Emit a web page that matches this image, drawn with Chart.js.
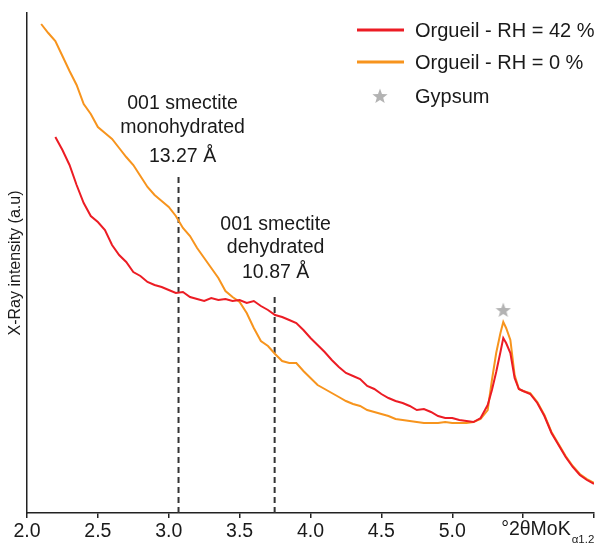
<!DOCTYPE html>
<html>
<head>
<meta charset="utf-8">
<script src="https://cdn.jsdelivr.net/npm/chart.js@4"></script>
<style>
html, body { margin: 0; padding: 0; background: #fff; }
</style>
</head>
<body>
<canvas id="chart1" width="598" height="546"></canvas>
<script>
// 2theta positions (deg, Mo K alpha)
const twoTheta = [2.10, 2.15, 2.20, 2.25, 2.30, 2.35, 2.40, 2.45, 2.50, 2.55,
    2.60, 2.65, 2.70, 2.75, 2.80, 2.85, 2.90, 2.95, 3.00, 3.05,
    3.10, 3.15, 3.20, 3.25, 3.30, 3.35, 3.40, 3.45, 3.50, 3.55,
    3.60, 3.65, 3.70, 3.75, 3.80, 3.85, 3.90, 3.95, 4.00, 4.05,
    4.10, 4.15, 4.20, 4.25, 4.30, 4.35, 4.40, 4.45, 4.50, 4.55,
    4.60, 4.65, 4.70, 4.75, 4.80, 4.85, 4.90, 4.95, 5.00, 5.05,
    5.10, 5.15, 5.20, 5.25,
    5.28, 5.31, 5.34, 5.36, 5.38, 5.41, 5.44, 5.47,
    5.50, 5.55, 5.60, 5.65, 5.70, 5.75, 5.80, 5.85, 5.90, 5.95, 6.00];

// Orgueil - RH = 42 %
const rh42 = [null, null, 380, 367, 352, 332, 314, 301, 295, 287,
    272, 262, 255, 245, 241, 235, 232, 230, 227, 224,
    225, 220, 218, 216, 219, 217, 218, 216, 217, 214,
    216, 211, 207, 202, 200, 197, 194, 187, 179, 172,
    165, 157, 150, 144, 141, 138, 131, 128, 123, 119,
    116, 114, 111, 107, 108, 105, 101, 99, 99, 97,
    96, 95, 99, 112,
    127, 145, 165, 179, 174, 164, 139, 128,
    126, 123, 114, 101, 84, 72, 60, 50, 42, 37, 33];

// Orgueil - RH = 0 %
const rh0 = [493, 484, 476, 461, 446, 432, 413, 403, 390, 384,
    378, 369, 360, 352, 341, 330, 322, 316, 310, 301,
    289, 281, 269, 259, 249, 239, 226, 220, 215, 204,
    189, 176, 171, 163, 156, 154, 154, 146, 139, 132,
    128, 124, 120, 116, 113, 111, 107, 105, 103, 101,
    98, 97, 96, 95, 94, 94, 94, 95, 94, 94,
    94, 95, 98, 107,
    137, 164, 184, 195, 189, 177, 142, 128,
    126, 124, 115, 102, 85, 73, 61, 51, 43, 38, 34];

// 001 smectite reflections
const smectitePos = [3.069, 3.747];
const smectiteTop = [342, 223];
const smectiteText = [['001 smectite', 'monohydrated', '13.27 Å'], ['001 smectite', 'dehydrated', '10.87 Å']];

// gypsum peak marker
const gypsumPos = [5.36];
const gypsumMark = [207];

const seriesLabels = ['Orgueil - RH = 42 %', 'Orgueil - RH = 0 %', 'Gypsum'];
const seriesColors = ['#ec1c24', '#f7941d', '#b3b3b3'];

const yMin = 4, yMax = 504;

const FONT = "'Liberation Sans', Arial, sans-serif";
const TEXT = '#1a1a1a';
Chart.defaults.font.family = FONT;

function makeStar(size, color) {
    const c = document.createElement('canvas');
    c.width = size; c.height = size;
    const g = c.getContext('2d');
    const r = size / 2, ri = r * 0.42;
    g.beginPath();
    for (let i = 0; i < 10; i++) {
        const a = -Math.PI / 2 + i * Math.PI / 5;
        const rr = i % 2 ? ri : r;
        g.lineTo(r + rr * Math.cos(a), r + 0.6 + rr * Math.sin(a));
    }
    g.closePath();
    g.fillStyle = color;
    g.fill();
    return c;
}
const star = makeStar(16, seriesColors[2]);

const textPlugin = {
    id: 'textPlugin',
    afterDatasetsDraw(chart) {
        const ctx = chart.ctx;
        const xs = chart.scales.x, ys = chart.scales.y;
        ctx.save();
        ctx.fillStyle = TEXT;
        ctx.font = '19.5px ' + FONT;
        ctx.textAlign = 'center';
        ctx.textBaseline = 'middle';
        const offs = [[-71, -47, -18], [-69, -46, -21]];
        smectitePos.forEach((p, i) => {
            const px = xs.getPixelForValue(p) + (i === 0 ? 4 : 1);
            const top = ys.getPixelForValue(smectiteTop[i]);
            smectiteText[i].forEach((t, j) => ctx.fillText(t, px, top + offs[i][j]));
        });

        // legend
        ctx.textAlign = 'left';
        ctx.font = '20px ' + FONT;
        const ly = [30, 62, 96];
        seriesLabels.forEach((l, i) => {
            if (i < 2) {
                ctx.strokeStyle = seriesColors[i];
                ctx.lineWidth = 3;
                ctx.beginPath();
                ctx.moveTo(357, ly[i]);
                ctx.lineTo(404, ly[i]);
                ctx.stroke();
            } else {
                ctx.drawImage(star, 372, ly[i] - 8);
            }
            ctx.fillText(l, 415, ly[i] + 1);
        });

        // x axis title with subscript
        const tx = xs.getPixelForValue(5.5) - 22;
        const ty = xs.top + 17;
        ctx.font = '19.5px ' + FONT;
        ctx.fillText('°2θMoK', tx, ty);
        const w = ctx.measureText('°2θMoK').width;
        ctx.font = '11.5px ' + FONT;
        ctx.fillText('α1.2', tx + w + 1, ty + 10);
        ctx.restore();
    }
};

const datasets = [
    {
        label: seriesLabels[0],
        data: twoTheta.map((x, i) => ({ x: x, y: rh42[i] })),
        borderColor: seriesColors[0],
        borderWidth: 2,
        pointRadius: 0
    },
    {
        label: seriesLabels[1],
        data: twoTheta.map((x, i) => ({ x: x, y: rh0[i] })),
        borderColor: seriesColors[1],
        borderWidth: 2,
        pointRadius: 0
    },
    {
        label: seriesLabels[2],
        data: gypsumPos.map((x, i) => ({ x: x, y: gypsumMark[i] })),
        showLine: false,
        pointStyle: star,
        pointRadius: 1,
        pointBorderWidth: 0
    }
];
smectitePos.forEach((p, i) => {
    datasets.push({
        label: 'smectite ' + i,
        data: [{ x: p, y: yMin }, { x: p, y: smectiteTop[i] }],
        borderColor: '#333',
        borderWidth: 2,
        borderDash: [6, 4],
        pointRadius: 0
    });
});

new Chart(document.getElementById('chart1'), {
    type: 'line',
    data: { datasets: datasets },
    options: {
        responsive: false,
        animation: false,
        devicePixelRatio: 1,
        layout: { padding: { top: 13, right: 2, left: 0, bottom: 0 } },
        plugins: { legend: { display: false }, tooltip: { enabled: false } },
        scales: {
            x: {
                type: 'linear',
                min: 2,
                max: 6,
                afterFit: s => { s.height = 33; s.paddingRight = 0; s.paddingLeft = 0; },
                ticks: {
                    stepSize: 0.5,
                    autoSkip: false,
                    maxRotation: 0,
                    padding: 2,
                    color: TEXT,
                    font: { size: 19.5 },
                    callback: v => (v >= 5.5 ? '' : v.toFixed(1))
                },
                grid: { drawOnChartArea: false, drawTicks: true, tickLength: 5, color: '#222', lineWidth: 1.5 },
                border: { color: '#222', width: 1.5 }
            },
            y: {
                min: yMin,
                max: yMax,
                afterFit: s => { s.width = 27; },
                ticks: { display: false },
                grid: { display: false },
                border: { color: '#222', width: 1.5 },
                title: {
                    display: true,
                    text: 'X-Ray intensity (a.u)',
                    color: TEXT,
                    font: { size: 16 },
                    padding: { top: 6, bottom: 0 }
                }
            }
        }
    },
    plugins: [textPlugin]
});
</script>
</body>
</html>
